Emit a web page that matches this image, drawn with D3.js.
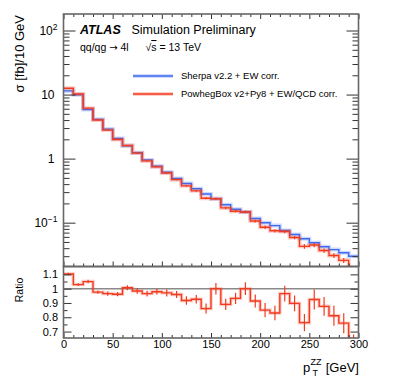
<!DOCTYPE html>
<html>
<head>
<meta charset="utf-8">
<script src="https://cdn.jsdelivr.net/npm/d3@7"></script>
<style>
  body { margin: 0; background: #fff; }
  text { font-family: "Liberation Sans", Arial, Helvetica, sans-serif; fill: #000; }
</style>
</head>
<body>
<svg id="chart" width="399" height="383"></svg>
<script>
// bin low edges, pT(ZZ) in GeV (10 GeV bins)
var binLow = [0, 10, 20, 30, 40, 50, 60, 70, 80, 90,
              100, 110, 120, 130, 140, 150, 160, 170, 180, 190,
              200, 210, 220, 230, 240, 250, 260, 270, 280, 290];
var binHigh = 300;

// Sherpa v2.2 + EW corr. [fb / 10 GeV]
var sherpa = [11.4, 9.9, 5.85, 4.1, 2.89, 2.07, 1.59, 1.24, 0.955, 0.76,
              0.614, 0.49, 0.41, 0.339, 0.28, 0.237, 0.191, 0.162, 0.147, 0.116,
              0.100, 0.090, 0.0754, 0.0653, 0.056, 0.0485, 0.042, 0.038, 0.034, 0.030];

// PowhegBox v2+Py8 + EW/QCD corr. [fb / 10 GeV]
var powheg = [12.57, 10.18, 6.14, 4.00, 2.79, 1.99, 1.60, 1.22, 0.922, 0.744,
              0.596, 0.470, 0.376, 0.314, 0.241, 0.237, 0.170, 0.151, 0.147, 0.106,
              0.085, 0.0747, 0.0728, 0.0586, 0.0427, 0.0448, 0.0368, 0.0308, 0.0258, 0.018];

// stat. uncertainty on the ratio
var ratioErr = [0.008, 0.01, 0.012, 0.012, 0.015, 0.015, 0.018, 0.02, 0.02, 0.02,
                0.025, 0.025, 0.03, 0.03, 0.035, 0.04, 0.04, 0.04, 0.045, 0.045,
                0.05, 0.05, 0.055, 0.055, 0.06, 0.07, 0.065, 0.07, 0.07, 0.08];

var xTicksMajor = [0, 50, 100, 150, 200, 250, 300];
var yTicksMajor = [0.1, 1, 10, 100];
var rTicksMajor = [0.7, 0.8, 0.9, 1, 1.1];
var rTicksMinor = [0.75, 0.85, 0.95, 1.05];

var blue = "#3d6af2", red = "#f23a1e";

var svg = d3.select("#chart");
var L = 63.5, R = 358.5, T = 14, MB = 266.5, RB = 338;

var x = d3.scaleLinear().domain([0, 300]).range([L, R]);
var y = d3.scaleLog().domain([0.0207, 181]).range([MB, T]);
var yr = d3.scaleLinear().domain([0.655, 1.155]).range([RB, MB]);

var defs = svg.append("defs");
defs.append("clipPath").attr("id", "clipMain")
  .append("rect").attr("x", L).attr("y", T).attr("width", R - L).attr("height", MB - T);
defs.append("clipPath").attr("id", "clipRatio")
  .append("rect").attr("x", L).attr("y", MB).attr("width", R - L).attr("height", RB - MB);

function steps(vals) {
  var pts = binLow.map(function(b, i) { return [b, vals[i]]; });
  pts.push([binHigh, vals[vals.length - 1]]);
  return pts;
}

var ratio = powheg.map(function(v, i) { return v / sherpa[i]; });

// ---- main panel
var gMain = svg.append("g").attr("clip-path", "url(#clipMain)");
var lineMain = d3.line().curve(d3.curveStepAfter)
  .x(function(d) { return x(d[0]); })
  .y(function(d) { return y(d[1]); });

[[sherpa, blue], [powheg, red]].forEach(function(s) {
  gMain.append("path").attr("d", lineMain(steps(s[0])))
    .attr("fill", "none").attr("stroke", s[1]).attr("stroke-opacity", 0.25).attr("stroke-width", 4);
  gMain.append("path").attr("d", lineMain(steps(s[0])))
    .attr("fill", "none").attr("stroke", s[1]).attr("stroke-width", 1.4);
});

gMain.selectAll("line.err").data(powheg).enter().append("line")
  .attr("class", "err")
  .attr("x1", function(d, i) { return x(binLow[i] + 5); })
  .attr("x2", function(d, i) { return x(binLow[i] + 5); })
  .attr("y1", function(d, i) { return y(d * (1 - ratioErr[i] / ratio[i])); })
  .attr("y2", function(d, i) { return y(d * (1 + ratioErr[i] / ratio[i])); })
  .attr("stroke", red).attr("stroke-width", 1.2);

// ---- ratio panel
var gRatio = svg.append("g").attr("clip-path", "url(#clipRatio)");
gRatio.append("line")
  .attr("x1", L).attr("x2", R).attr("y1", yr(1)).attr("y2", yr(1))
  .attr("stroke", "#8a8a8a").attr("stroke-width", 1.5);
var lineRatio = d3.line().curve(d3.curveStepAfter)
  .x(function(d) { return x(d[0]); })
  .y(function(d) { return yr(d[1]); });
gRatio.append("path").attr("d", lineRatio(steps(ratio)))
  .attr("fill", "none").attr("stroke", red).attr("stroke-opacity", 0.25).attr("stroke-width", 3.5);
gRatio.append("path").attr("d", lineRatio(steps(ratio)))
  .attr("fill", "none").attr("stroke", red).attr("stroke-width", 1.4);
gRatio.selectAll("line.err").data(ratio).enter().append("line")
  .attr("class", "err")
  .attr("x1", function(d, i) { return x(binLow[i] + 5); })
  .attr("x2", function(d, i) { return x(binLow[i] + 5); })
  .attr("y1", function(d, i) { return yr(d - ratioErr[i]); })
  .attr("y2", function(d, i) { return yr(d + ratioErr[i]); })
  .attr("stroke", red).attr("stroke-width", 1.2);

// ---- axes
var xMinor = binLow.filter(function(v) { return xTicksMajor.indexOf(v) < 0; });
var yMinor = y.ticks().filter(function(v) { return yTicksMajor.indexOf(v) < 0; });

function addAxis(axis, tx, ty) {
  var g = svg.append("g").attr("class", "ax").attr("transform", "translate(" + tx + "," + ty + ")").call(axis);
  g.select(".domain").remove();
  g.selectAll(".tick line").attr("stroke", "#333").attr("stroke-width", 1);
  return g;
}

// main x ticks (bottom and top, inward)
addAxis(d3.axisBottom(x).tickValues(xTicksMajor).tickSize(-5).tickFormat(""), 0, MB);
addAxis(d3.axisBottom(x).tickValues(xMinor).tickSize(-3).tickFormat(""), 0, MB);
addAxis(d3.axisTop(x).tickValues(xTicksMajor).tickSize(-5).tickFormat(""), 0, T);
addAxis(d3.axisTop(x).tickValues(xMinor).tickSize(-3).tickFormat(""), 0, T);
// main y ticks
addAxis(d3.axisLeft(y).tickValues(yTicksMajor).tickSize(-12).tickFormat(""), L, 0);
addAxis(d3.axisLeft(y).tickValues(yMinor).tickSize(-6).tickFormat(""), L, 0);
addAxis(d3.axisRight(y).tickValues(yTicksMajor).tickSize(-12).tickFormat(""), R, 0);
addAxis(d3.axisRight(y).tickValues(yMinor).tickSize(-6).tickFormat(""), R, 0);

// main y labels
var yLab = svg.append("g").selectAll("text").data(yTicksMajor).enter().append("text")
  .attr("x", 54.5).attr("y", function(d) { return y(d) + 4.3; })
  .attr("text-anchor", "end").style("font-size", "12px");
yLab.each(function(d) {
  var t = d3.select(this);
  var e = Math.round(Math.log10(d));
  if (e === 0) { t.text("1"); return; }
  if (e === 1) { t.text("10"); return; }
  t.append("tspan").text("10");
  t.append("tspan").attr("dy", -5).style("font-size", "8.5px").text(e < 0 ? "\u22121" : String(e));
});
yLab.filter(function(d) { return d === 0.1 || d === 100; }).attr("x", 57.5);

// ratio axes
addAxis(d3.axisBottom(x).tickValues(xTicksMajor).tickSize(-5).tickPadding(2)
  .tickFormat(d3.format("d")), 0, RB).selectAll("text").style("font-size", "11px").attr("fill", "#000");
addAxis(d3.axisBottom(x).tickValues(xMinor).tickSize(-3).tickFormat(""), 0, RB);
addAxis(d3.axisLeft(yr).tickValues(rTicksMajor).tickSize(-8).tickPadding(5.5)
  .tickFormat(d3.format("~g")), L, 0).selectAll("text").style("font-size", "11px").attr("fill", "#000");
addAxis(d3.axisLeft(yr).tickValues(rTicksMinor).tickSize(-4).tickFormat(""), L, 0);
addAxis(d3.axisRight(yr).tickValues(rTicksMajor).tickSize(-8).tickFormat(""), R, 0);
addAxis(d3.axisRight(yr).tickValues(rTicksMinor).tickSize(-4).tickFormat(""), R, 0);

// frames
svg.append("rect").attr("x", L).attr("y", T).attr("width", R - L).attr("height", MB - T)
  .attr("fill", "none").attr("stroke", "#666").attr("stroke-width", 1.6);
svg.append("rect").attr("x", L).attr("y", MB).attr("width", R - L).attr("height", RB - MB)
  .attr("fill", "none").attr("stroke", "#666").attr("stroke-width", 1.6);

// titles
svg.append("text").attr("transform", "translate(24," + (T + 1) + ") rotate(-90)")
  .attr("text-anchor", "end").style("font-size", "13px").text("\u03c3 [fb]/10 GeV");
svg.append("text").attr("transform", "translate(23,290) rotate(-90)")
  .attr("text-anchor", "middle").style("font-size", "10.5px").text("Ratio");

var xt = svg.append("g");
xt.append("text").attr("x", 303).attr("y", 371.5).style("font-size", "13px").text("p");
xt.append("text").attr("x", 310.5).attr("y", 365).style("font-size", "9px").text("ZZ");
xt.append("text").attr("x", 312.5).attr("y", 376).style("font-size", "9px").text("T");
xt.append("text").attr("x", 359).attr("y", 371.5).attr("text-anchor", "end").style("font-size", "13px").text("[GeV]");

// ATLAS label
var atl = svg.append("text").attr("x", 80).attr("y", 33.5).style("font-size", "12.5px");
atl.append("tspan").style("font-weight", "bold").style("font-style", "italic").text("ATLAS");
atl.append("tspan").attr("x", 131.5).text("Simulation Preliminary");

var proc = svg.append("text").attr("x", 80).attr("y", 51).style("font-size", "10.5px");
proc.append("tspan").text("qq/qg ");
proc.append("tspan").style("font-family", "'DejaVu Sans'").style("font-size", "10px").text("\u2192");
proc.append("tspan").text(" 4l");
var rs = svg.append("text").attr("x", 145.5).attr("y", 51).style("font-size", "10.5px");
rs.append("tspan").text("\u221a");
rs.append("tspan").style("text-decoration", "overline").text("s");
rs.append("tspan").text(" = 13 TeV");

// legend
var legend = [["Sherpa v2.2 + EW corr.", blue], ["PowhegBox v2+Py8 + EW/QCD corr.", red]];
var lg = svg.selectAll("g.leg").data(legend).enter().append("g").attr("class", "leg")
  .attr("transform", function(d, i) { return "translate(0," + (76 + i * 18) + ")"; });
lg.append("line").attr("x1", 133).attr("x2", 173)
  .attr("stroke", function(d) { return d[1]; }).attr("stroke-opacity", 0.25).attr("stroke-width", 4);
lg.append("line").attr("x1", 133).attr("x2", 173)
  .attr("stroke", function(d) { return d[1]; }).attr("stroke-width", 1.4);
lg.append("text").attr("x", 181).attr("y", 3.4).style("font-size", "9.5px").text(function(d) { return d[0]; });
</script>
</body>
</html>
